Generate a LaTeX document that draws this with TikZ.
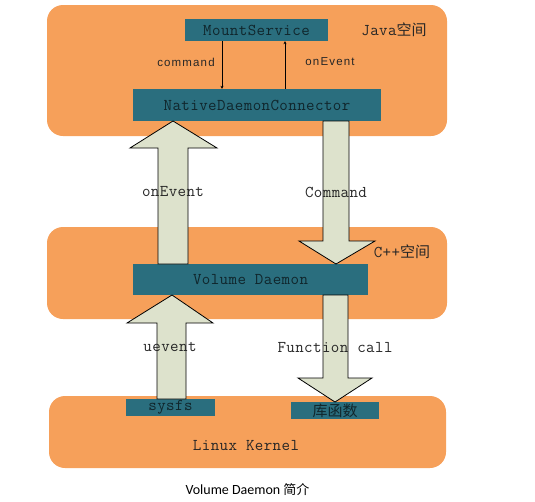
\documentclass[tikz,border=0pt]{standalone}
\usepackage{fontspec}
\setmainfont{Carlito}
\setmonofont[LetterSpace=2.5]{Latin Modern Mono}
\newfontfamily\cjk{Noto Sans CJK SC}
\newfontfamily\smallsans[LetterSpace=10]{Liberation Sans}
\usetikzlibrary{arrows.meta}
\definecolor{panelorange}{HTML}{F6A05A}
\definecolor{boxteal}{HTML}{2A6E7E}
\definecolor{arrowfill}{HTML}{DDE2CC}
\definecolor{boxtext}{HTML}{10262C}
\begin{document}
\begin{tikzpicture}[x=1pt,y=-1pt,
  panel/.style={fill=panelorange,draw=none,rounded corners=16pt},
  tealbox/.style={fill=boxteal,draw=none,inner sep=0pt,font=\ttfamily\fontsize{16.5}{18}\selectfont,text=boxtext},
  monolabel/.style={font=\ttfamily\fontsize{16.5}{18}\selectfont,text=black!85,inner sep=0pt},
  sanslabel/.style={font=\smallsans\fontsize{11.5}{13}\selectfont,text=black!85,inner sep=0pt},
  bigarrow/.style={fill=arrowfill,draw=black,line width=0.8pt,line join=miter},
  thin/.style={draw=black,line width=0.8pt,-{Stealth[length=3pt,width=3pt]}}]
\useasboundingbox (0,0) rectangle (535,501);
% panels
\fill[panel] (47,5) rectangle (447,136);
\fill[panel] (47,227) rectangle (447,319);
\fill[panel] (49,396) rectangle (446,468);
% boxes
\node[tealbox,minimum width=143pt,minimum height=22pt] (ms) at (256.5,30) {MountService};
\node[tealbox,minimum width=248pt,minimum height=32pt] (ndc) at (257,105) {NativeDaemonConnector};
\node[tealbox,minimum width=235pt,minimum height=31pt] (vd) at (250.5,279.5) {Volume Daemon};
\node[tealbox,minimum width=89pt,minimum height=17pt] (sysfs) at (170.5,407.5) {sysfs};
\node[tealbox,minimum width=88pt,minimum height=17pt] (lib) at (335,410.5) {\cjk\fontsize{15}{16}\selectfont 库函数};
% panel labels
\node[monolabel] (java) at (394,30) {Java{\cjk\fontsize{15}{16}\selectfont 空间}};
\node[monolabel] (cpp) at (402,252) {C++{\cjk\fontsize{15}{16}\selectfont 空间}};
\node[monolabel] (linux) at (246,446) {Linux Kernel};
% thin arrows
\coordinate (c1) at (222,0);
\coordinate (c2) at (285,0);
\draw[thin] (ms.south -| c1) -- (ndc.north -| c1);
\draw[thin] (ndc.north -| c2) -- (ms.south -| c2);
\node[sanslabel] (lcmd) at (186,62) {command};
\node[sanslabel] (lone) at (330,62) {onEvent};
% big arrows
\draw[bigarrow] (158,264) -- (158,148) -- (130,148) -- (173,121) -- (217,148) -- (188,148) -- (188,264) -- cycle;
\draw[bigarrow] (323,121) -- (323,241) -- (299,241) -- (336,264) -- (375,241) -- (349,241) -- (349,121) -- cycle;
\draw[bigarrow] (157,399) -- (157,323) -- (127,323) -- (172,295) -- (213,323) -- (186,323) -- (186,399) -- cycle;
\draw[bigarrow] (323,295) -- (323,378) -- (298,378) -- (335,402) -- (372,378) -- (348,378) -- (348,295) -- cycle;
% arrow labels
\node[monolabel] (lon) at (173,192) {onEvent};
\node[monolabel] (lcom) at (336,192) {Command};
\node[monolabel] (lue) at (170,347) {uevent};
\node[monolabel] (lfc) at (335,348) {Function call};
% caption
\node[font=\fontsize{14}{16}\selectfont,inner sep=0pt] (cap) at (247.5,490) {Volume Daemon {\cjk\fontsize{13}{15}\selectfont 简介}};
\end{tikzpicture}
\end{document}
